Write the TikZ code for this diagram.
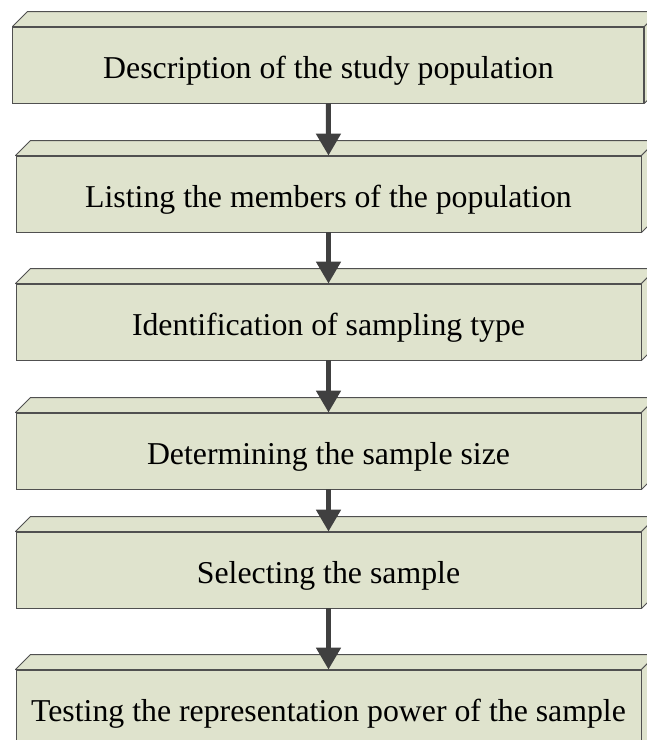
\documentclass[tikz,border=0pt]{standalone}
\usepackage{fontspec}
\setmainfont{Liberation Serif}
\usetikzlibrary{arrows.meta}
\definecolor{boxfill}{RGB}{223,227,205}
\definecolor{edgegray}{RGB}{80,80,80}
\definecolor{arrowgray}{RGB}{64,64,64}
\begin{document}
\begin{tikzpicture}[x=1pt, y=-1pt,
        every node/.style={font=\fontsize{31.8}{38}\selectfont},
        stepbox/.style={rectangle, minimum width=625pt, minimum height=76pt,
            inner sep=0pt, align=center, text height=26pt, text depth=0pt,
            fill=boxfill, draw=edgegray, line width=0.9pt},
        face/.style={fill=boxfill, draw=edgegray, line width=0.9pt,
            line join=round},
        arrow/.style={-{Triangle[width=24pt,length=22pt]},
            line width=5pt, draw=arrowgray}
      ]
      \clip (0,0) rectangle (647,740);
      \node[stepbox, minimum width=631pt] (desc) at (328.4, 65)
      {Description of the study population};
      \node[stepbox] (list) at (328.5, 194)
      {Listing the members of the population};
      \node[stepbox] (ident) at (328.5, 322)
      {Identification of sampling type};
      \node[stepbox] (size) at (328.5, 451)
      {Determining the sample size};
      \node[stepbox] (select) at (328.5, 570)
      {Selecting the sample};
      \node[stepbox] (test) at (328.5, 708)
      {Testing the representation power of the sample};
      % top and side faces of the boxes
      \foreach \n in {desc, list, ident, size, select, test} {
        \draw[face] (\n.north west) -- ++(15,-15)
          -- ([shift={(15,-15)}]\n.north east) -- (\n.north east) -- cycle;
        \draw[face] (\n.north east) -- ++(15,-15)
          -- ([shift={(15,-15)}]\n.south east) -- (\n.south east) -- cycle;
      }
      \draw[arrow] (desc.south)   -- (list.north);
      \draw[arrow] (list.south)   -- (ident.north);
      \draw[arrow] (ident.south)  -- (size.north);
      \draw[arrow] (size.south)   -- (select.north);
      \draw[arrow] (select.south) -- (test.north);
    \end{tikzpicture}
\end{document}
